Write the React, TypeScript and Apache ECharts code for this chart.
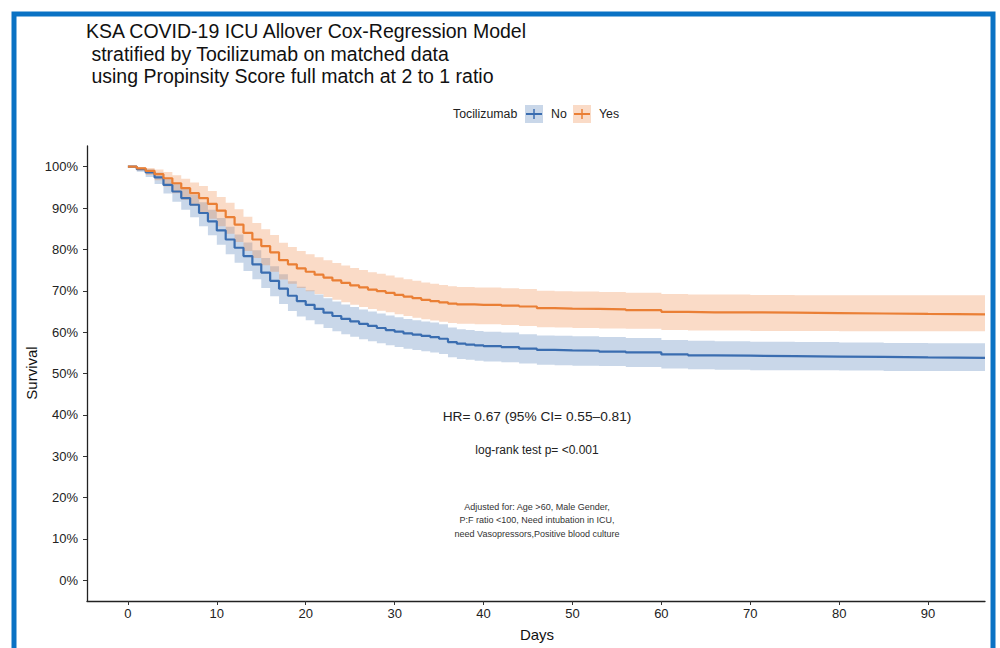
import React, { useEffect, useRef } from "react";
import * as echarts from "echarts";

// ---- data ----
const days: number[] = [
  0, 1, 2, 3, 4, 5, 6, 7, 8, 9, 10, 11, 12, 13, 14, 15, 16, 17, 18, 19, 20,
  21, 22, 23, 24, 25, 26, 27, 28, 29, 30, 31, 32, 33, 34, 35, 36, 37, 38, 39, 40,
  42, 44, 46, 48, 50, 53, 56, 60, 63, 66, 70, 75, 80, 85, 90, 96.4,
];

const noSurv: number[] = [
  100, 99.4, 98.6, 97.4, 95.6, 94.0, 92.4, 90.8, 88.8, 86.8, 84.6, 82.4, 80.4, 78.4, 76.4, 74.4, 72.4, 70.5, 68.8, 67.5, 66.6,
  65.6, 64.7, 63.9, 63.2, 62.6, 62.0, 61.5, 61.0, 60.5, 60.1, 59.7, 59.4, 59.1, 58.8, 58.4, 57.6, 57.2, 57.0, 56.8, 56.6,
  56.4, 56.0, 55.7, 55.6, 55.5, 55.3, 55.1, 54.6, 54.4, 54.3, 54.2, 54.1, 54.0, 53.9, 53.8, 53.8,
];
const noUpper: number[] = [
  100, 99.8, 99.4, 98.6, 97.2, 95.9, 94.6, 93.2, 91.4, 89.6, 87.6, 85.5, 83.6, 81.7, 79.8, 77.9, 75.9, 74.0, 72.3, 71.0, 70.1,
  69.1, 68.2, 67.4, 66.7, 66.1, 65.5, 65.0, 64.5, 64.0, 63.6, 63.2, 62.9, 62.6, 62.3, 61.9, 61.1, 60.7, 60.5, 60.3, 60.1,
  59.9, 59.5, 59.2, 59.1, 59.0, 58.8, 58.6, 58.1, 57.9, 57.8, 57.7, 57.6, 57.5, 57.4, 57.3, 57.3,
];
const noLower: number[] = [
  100, 98.8, 97.5, 95.8, 93.5, 91.5, 89.6, 87.8, 85.6, 83.4, 81.1, 78.8, 76.8, 74.8, 72.8, 70.7, 68.7, 66.8, 65.1, 63.8, 62.9,
  61.9, 61.0, 60.2, 59.5, 58.9, 58.3, 57.8, 57.3, 56.8, 56.4, 56.0, 55.7, 55.4, 55.1, 54.7, 53.9, 53.5, 53.3, 53.1, 52.9,
  52.7, 52.4, 52.1, 52.0, 51.9, 51.8, 51.6, 51.2, 51.0, 50.9, 50.8, 50.8, 50.7, 50.6, 50.6, 50.6,
];

const yesSurv: number[] = [
  100, 99.6, 99.0, 98.2, 97.2, 96.0, 94.8, 93.6, 92.4, 91.0, 89.4, 87.8, 86.0, 84.0, 82.4, 80.8, 79.3, 77.4, 76.4, 75.4, 74.6,
  73.9, 73.2, 72.5, 71.9, 71.3, 70.8, 70.3, 69.9, 69.5, 69.0, 68.6, 68.2, 67.8, 67.5, 67.2, 66.9, 66.7, 66.7, 66.6, 66.6,
  66.4, 66.2, 65.8, 65.7, 65.6, 65.5, 65.3, 64.9, 64.8, 64.8, 64.7, 64.6, 64.5, 64.4, 64.3, 64.3,
];
const yesUpper: number[] = [
  100, 99.9, 99.7, 99.3, 98.7, 97.9, 97.1, 96.2, 95.3, 94.1, 92.7, 91.3, 89.7, 87.9, 86.4, 84.9, 83.5, 81.6, 80.6, 79.6, 78.8,
  78.1, 77.4, 76.7, 76.1, 75.5, 75.0, 74.5, 74.1, 73.7, 73.2, 72.8, 72.4, 72.0, 71.7, 71.4, 71.1, 70.9, 70.9, 70.8, 70.8,
  70.6, 70.4, 70.0, 69.9, 69.8, 69.7, 69.5, 69.2, 69.1, 69.1, 69.0, 68.9, 68.9, 68.9, 68.9, 68.9,
];
const yesLower: number[] = [
  100, 99.1, 98.0, 96.7, 95.2, 93.6, 92.0, 90.5, 89.0, 87.4, 85.6, 83.8, 81.8, 79.6, 77.9, 76.2, 74.6, 72.7, 71.7, 70.7, 69.9,
  69.2, 68.5, 67.8, 67.2, 66.6, 66.1, 65.6, 65.2, 64.8, 64.3, 63.9, 63.5, 63.1, 62.8, 62.5, 62.2, 62.0, 62.0, 61.9, 61.9,
  61.7, 61.5, 61.2, 61.1, 61.0, 60.9, 60.8, 60.5, 60.4, 60.4, 60.3, 60.3, 60.2, 60.2, 60.2, 60.2,
];

const xTicks: number[] = [0, 10, 20, 30, 40, 50, 60, 70, 80, 90];
const yTicks: number[] = [0, 10, 20, 30, 40, 50, 60, 70, 80, 90, 100];

const titleLines: string[] = [
  "KSA COVID-19 ICU Allover Cox-Regression Model",
  " stratified by Tocilizumab on matched data",
  " using Propinsity Score full match at 2 to 1 ratio",
];
const hrText = "HR= 0.67 (95% CI= 0.55\u20130.81)";
const pText = "log-rank test p= <0.001";
const adjLines: string[] = [
  "Adjusted for: Age >60, Male Gender,",
  "P:F ratio <100, Need intubation in ICU,",
  "need Vasopressors,Positive blood culture",
];
const legendTitle = "Tocilizumab";
const groupNames: string[] = ["No", "Yes"];

const FONT = "'Liberation Sans', Arial, Helvetica, sans-serif";
const BLUE = "#3a6db0";
const ORANGE = "#ea7f35";
const BLUE_BAND = "rgba(60,110,175,0.28)";
const ORANGE_BAND = "rgba(240,135,70,0.3)";

function pairs(xs: number[], ys: number[]) {
  return xs.map((x, i) => [x, ys[i]]);
}

// step-shaped confidence ribbon drawn as one polygon through the grid's coordinate system
function bandSeries(name: string, lo: number[], hi: number[], color: string) {
  return {
    type: "custom",
    name,
    silent: true,
    z: 1,
    clip: true,
    data: days.map((d, i) => [d, lo[i], hi[i]]),
    encode: { x: 0, y: [1, 2] },
    renderItem: (params: any, api: any) => {
      if (params.dataIndex !== 0) return null;
      const top: number[][] = [];
      const bot: number[][] = [];
      for (let i = 0; i < days.length; i++) {
        const x0 = days[i];
        const x1 = i + 1 < days.length ? days[i + 1] : days[i];
        top.push(api.coord([x0, hi[i]]), api.coord([x1, hi[i]]));
        bot.push(api.coord([x0, lo[i]]), api.coord([x1, lo[i]]));
      }
      const points = top.concat(bot.reverse());
      return {
        type: "polygon",
        shape: { points },
        style: { fill: color },
      };
    },
  };
}

export default function App() {
  const ref = useRef<HTMLDivElement>(null);
  useEffect(() => {
    if (!ref.current) return;
    const chart = echarts.init(ref.current, null, { renderer: "svg" });

    const legendY = 114;
    const keyItem = (x: number, band: string, line: string) => [
      { type: "rect", shape: { x, y: legendY - 9, width: 18, height: 18 }, style: { fill: band } },
      { type: "line", shape: { x1: x + 1, y1: legendY, x2: x + 17, y2: legendY }, style: { stroke: line, lineWidth: 2 } },
      { type: "line", shape: { x1: x + 9, y1: legendY - 5, x2: x + 9, y2: legendY + 5 }, style: { stroke: line, lineWidth: 1.5 } },
    ];

    chart.setOption({
      animation: false,
      backgroundColor: "#ffffff",
      grid: { left: 87, top: 146, width: 898, height: 455, containLabel: false },
      xAxis: {
        type: "value",
        min: -4.6,
        max: 96.4,
        axisLine: { onZero: false, lineStyle: { color: "#222", width: 1.3 } },
        axisTick: { show: true, customValues: xTicks, length: 4, lineStyle: { color: "#333" } },
        axisLabel: { customValues: xTicks, fontSize: 13, color: "#222", fontFamily: FONT, margin: 6 },
        splitLine: { show: false },
      },
      yAxis: {
        type: "value",
        min: -5,
        max: 105,
        axisLine: { show: true, onZero: false, lineStyle: { color: "#222", width: 1.3 } },
        axisTick: { show: true, customValues: yTicks, length: 4, lineStyle: { color: "#333" } },
        axisLabel: {
          customValues: yTicks,
          fontSize: 13,
          color: "#222",
          fontFamily: FONT,
          margin: 9,
          formatter: (v: number) => v + "%",
        },
        splitLine: { show: false },
      },
      series: [
        bandSeries("noCI", noLower, noUpper, BLUE_BAND),
        bandSeries("yesCI", yesLower, yesUpper, ORANGE_BAND),
        {
          type: "line",
          name: groupNames[0],
          step: "end",
          data: pairs(days, noSurv),
          showSymbol: false,
          lineStyle: { color: BLUE, width: 2.2 },
          z: 3,
        },
        {
          type: "line",
          name: groupNames[1],
          step: "end",
          data: pairs(days, yesSurv),
          showSymbol: false,
          lineStyle: { color: ORANGE, width: 2.2 },
          z: 4,
        },
      ],
      graphic: [
        {
          type: "rect",
          shape: { x: 14, y: 14, width: 979, height: 660 },
          style: { fill: "none", stroke: "#0a72c4", lineWidth: 5 },
          z: 100,
        },
        ...titleLines.map((t, i) => ({
          type: "text",
          x: 86,
          y: 31 + i * 22.5,
          style: { text: t, font: `19.5px ${FONT}`, fill: "#111", textVerticalAlign: "middle" },
        })),
        {
          type: "text",
          x: 453,
          y: legendY,
          style: { text: legendTitle, font: `12.3px ${FONT}`, fill: "#222", textVerticalAlign: "middle" },
        },
        ...keyItem(525, BLUE_BAND, BLUE),
        {
          type: "text",
          x: 551,
          y: legendY,
          style: { text: groupNames[0], font: `12.3px ${FONT}`, fill: "#222", textVerticalAlign: "middle" },
        },
        ...keyItem(573, ORANGE_BAND, ORANGE),
        {
          type: "text",
          x: 599,
          y: legendY,
          style: { text: groupNames[1], font: `12.3px ${FONT}`, fill: "#222", textVerticalAlign: "middle" },
        },
        {
          type: "text",
          x: 537,
          y: 416,
          style: { text: hrText, font: `13.7px ${FONT}`, fill: "#222", textAlign: "center", textVerticalAlign: "middle" },
        },
        {
          type: "text",
          x: 537,
          y: 450,
          style: { text: pText, font: `12px ${FONT}`, fill: "#222", textAlign: "center", textVerticalAlign: "middle" },
        },
        ...adjLines.map((t, i) => ({
          type: "text",
          x: 537,
          y: 507 + i * 13.3,
          style: { text: t, font: `9px ${FONT}`, fill: "#333", textAlign: "center", textVerticalAlign: "middle" },
        })),
        {
          type: "text",
          x: 537,
          y: 634,
          style: { text: "Days", font: `15px ${FONT}`, fill: "#111", textAlign: "center", textVerticalAlign: "middle" },
        },
        {
          type: "text",
          x: 31,
          y: 373,
          rotation: Math.PI / 2,
          style: { text: "Survival", font: `15px ${FONT}`, fill: "#111", textAlign: "center", textVerticalAlign: "middle" },
        },
      ],
    });
    return () => chart.dispose();
  }, []);

  return (
    <div
      ref={ref}
      style={{ position: "fixed", left: 0, top: 0, width: 1000, height: 648, background: "#fff" }}
    />
  );
}
